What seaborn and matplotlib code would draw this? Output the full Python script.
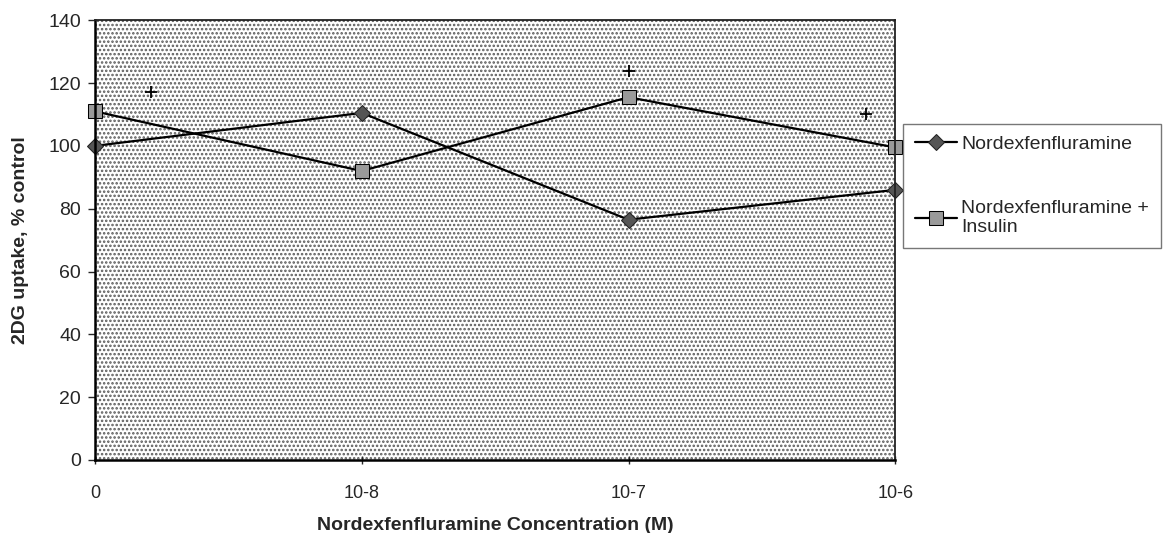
import matplotlib
matplotlib.use("Agg")
import matplotlib.pyplot as plt
import seaborn as sns
import pandas as pd

# Concentration categories and measured uptake (% of control)
concentrations = ["0", "10-8", "10-7", "10-6"]
nordex = [100, 110.5, 76.5, 86]
nordex_insulin = [111, 92, 115.5, 99.5]
series_names = ["Nordexfenfluramine", "Nordexfenfluramine +\nInsulin"]

# Significance marks (category position, value)
sig_x = [0.21, 2.0, 2.89]
sig_y = [117, 124, 110]

yticks = [0, 20, 40, 60, 80, 100, 120, 140]

df = pd.DataFrame({
    "pos": list(range(len(concentrations))) * 2,
    "uptake": nordex + nordex_insulin,
    "series": [series_names[0]] * len(nordex) + [series_names[1]] * len(nordex_insulin),
})

sns.set_theme(style="white")
plt.rcParams["font.family"] = ["Liberation Sans", "DejaVu Sans"]
plt.rcParams["hatch.linewidth"] = 1.2

fig = plt.figure(figsize=(11.65, 5.33), dpi=100)
ax = fig.add_axes([0.0815, 0.137, 0.687, 0.825])

# dotted plot area
ax.set_facecolor("white")
ax.patch.set_hatch("....")
ax.patch.set_edgecolor("#5a5a5a")
ax.patch.set_linewidth(0)

sns.lineplot(
    data=df, x="pos", y="uptake", hue="series", style="series",
    markers={series_names[0]: "D", series_names[1]: "s"},
    dashes=False, palette={series_names[0]: "black", series_names[1]: "black"},
    linewidth=1.6, markersize=9, ax=ax, legend=True,
)
for line in ax.lines:
    line.set_clip_on(False)
    if line.get_marker() == "D":
        line.set_markerfacecolor("#555555")
        line.set_markeredgecolor("#222222")
        line.set_markersize(8)
    elif line.get_marker() == "s":
        line.set_markerfacecolor("#9a9a9a")
        line.set_markeredgecolor("black")
        line.set_markersize(10)

ax.scatter(sig_x, sig_y, marker="+", s=80, color="black", linewidths=1.3, zorder=5)

ax.set_xlim(0, 3)
ax.set_ylim(0, 140)
ax.set_xticks(range(len(concentrations)))
ax.set_xticklabels(concentrations)
ax.set_yticks(yticks)
ax.tick_params(axis="y", which="major", direction="out", length=5, width=1, left=True, labelsize=14, pad=5)
ax.tick_params(axis="x", which="major", direction="inout", length=6, width=1, bottom=True, labelsize=13, pad=15)

for side in ["left", "bottom"]:
    ax.spines[side].set_linewidth(1.8)
    ax.spines[side].set_color("black")
for side in ["top", "right"]:
    ax.spines[side].set_linewidth(1.3)
    ax.spines[side].set_color("#222222")

ax.set_xlabel("Nordexfenfluramine Concentration (M)", fontsize=14, fontweight="bold", labelpad=11)
ax.set_ylabel("2DG uptake, % control", fontsize=14, fontweight="bold", labelpad=14)

handles, labels = ax.get_legend_handles_labels()
ax.get_legend().remove()
leg = fig.legend(
    handles, labels, loc="upper left", bbox_to_anchor=(0.775, 0.768),
    fontsize=14, frameon=True, fancybox=False, edgecolor="#555555",
    handlelength=2.2, labelspacing=2.4, borderpad=0.6, handletextpad=0.2,
    borderaxespad=0,
)
leg.get_frame().set_linewidth(1.0)

fig.savefig("out.png", dpi=100)
